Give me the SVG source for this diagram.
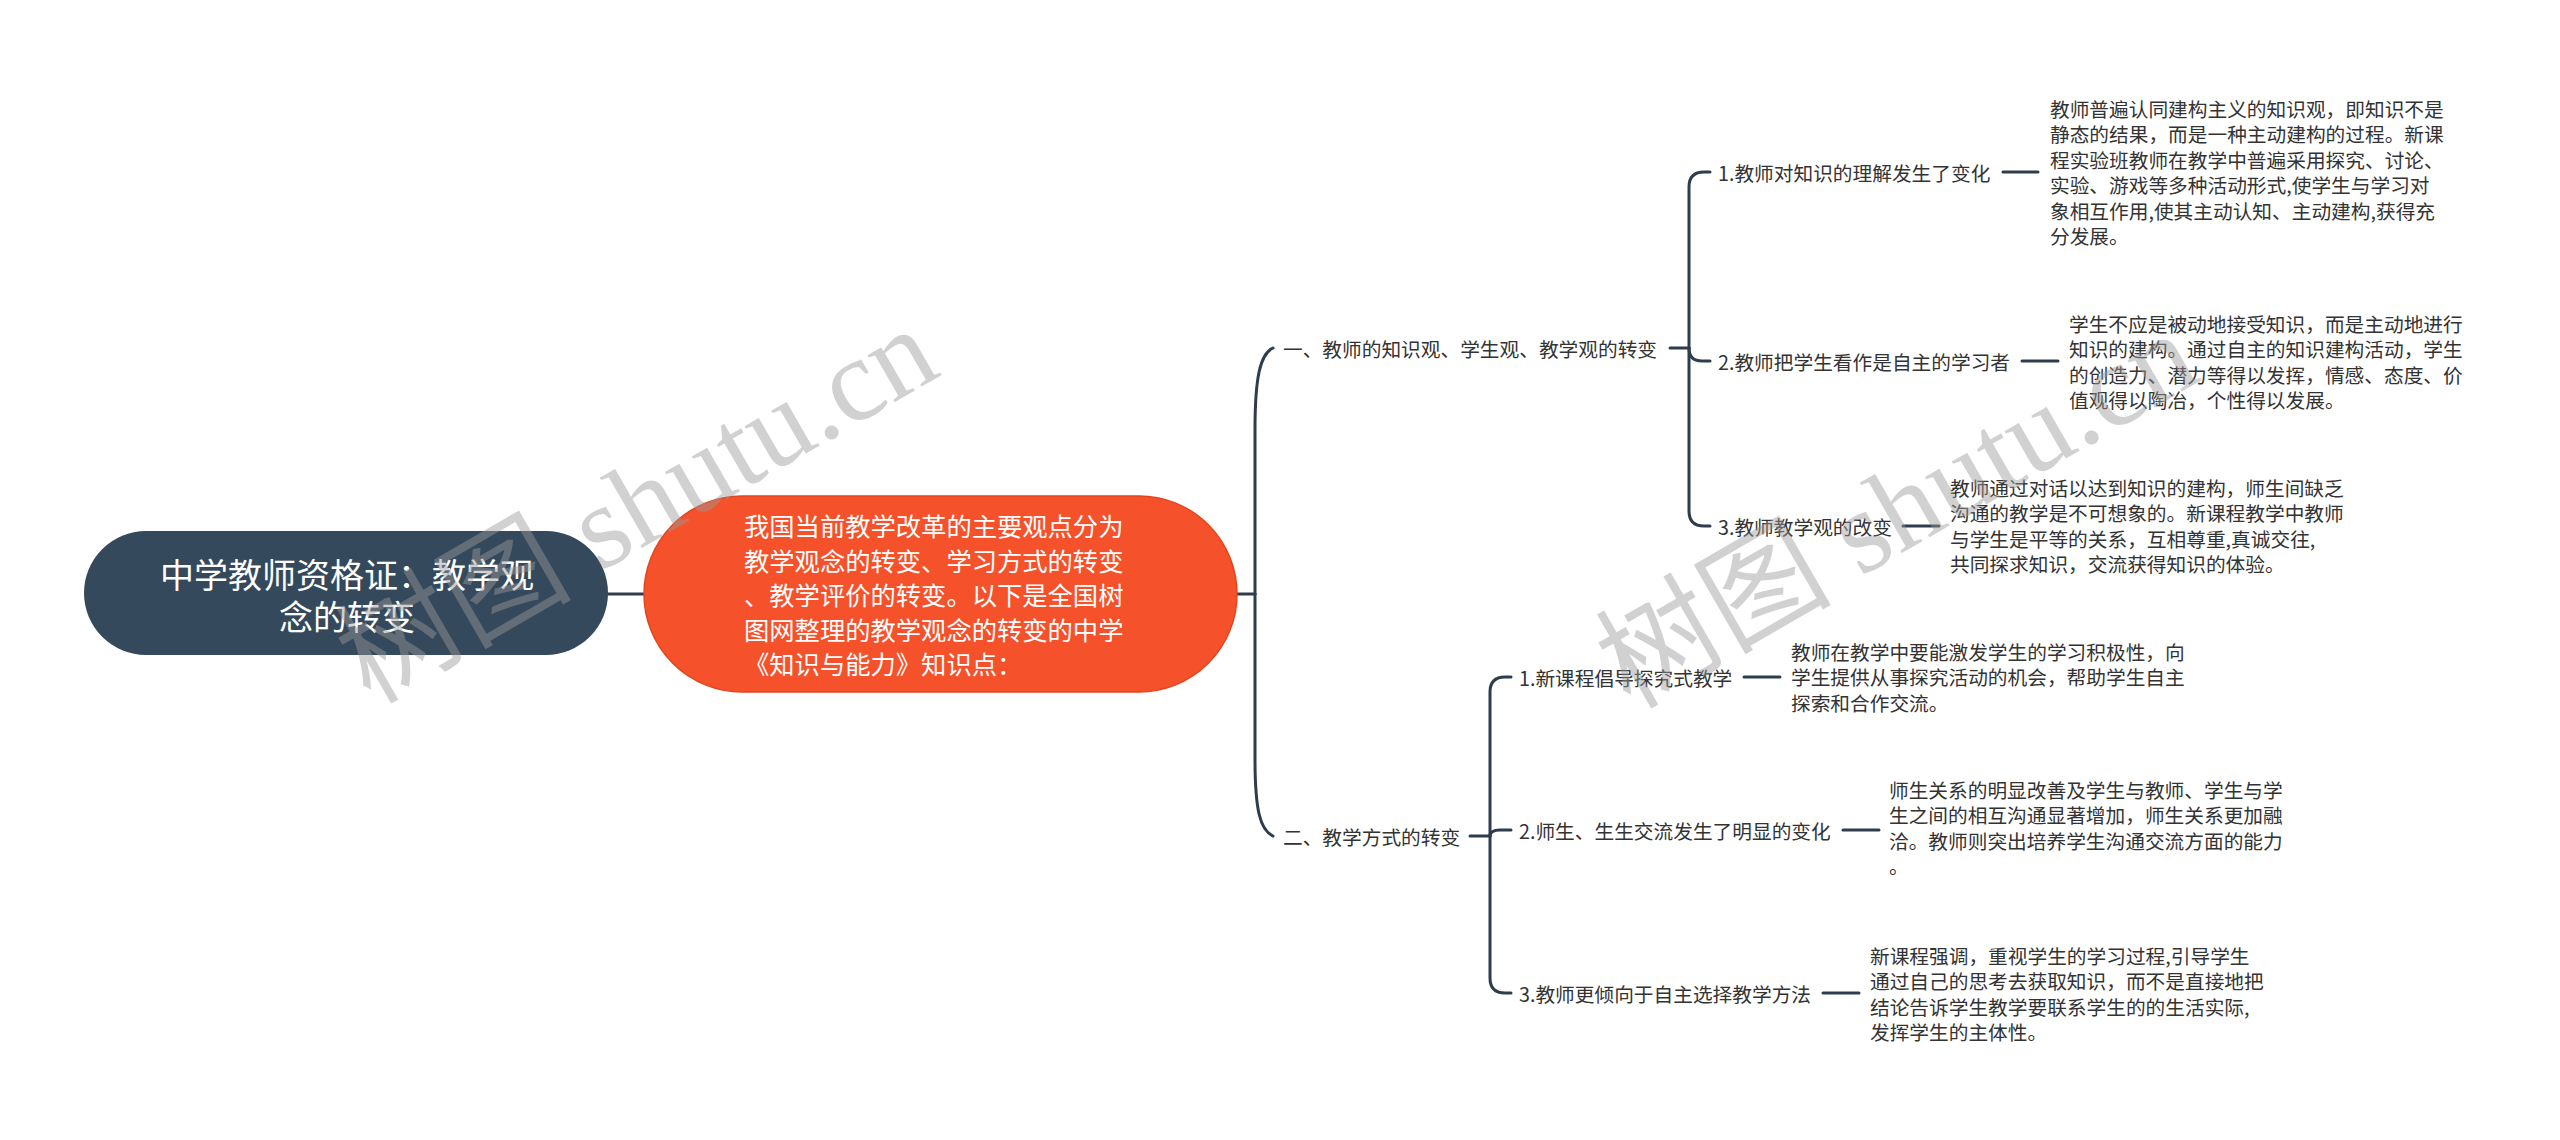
<svg xmlns="http://www.w3.org/2000/svg" width="2560" height="1140" viewBox="0 0 2560 1140">
<style>
text{font-family:"Noto Sans CJK SC","Noto Sans",sans-serif;}
.root{fill:#fff;font-size:34px;text-anchor:middle;dominant-baseline:central;}
.main{fill:#fff;font-size:25.3px;dominant-baseline:central;}
.t{fill:#333;font-size:19.7px;dominant-baseline:central;}
.c{fill:none;stroke:#2e3d4d;stroke-width:3;stroke-linecap:round;}
.wm{font-family:"Liberation Serif","Noto Sans CJK SC",serif;font-size:118px;fill:#9a9a9a;opacity:0.45;}
</style>
<rect width="2560" height="1140" fill="#fff"/>
<g id="connectors">
<path class="c" d="M608,594 H644"/>
<path class="c" d="M1237,594 H1255"/>
<path class="c" d="M1255,594 V430 C1255,378 1260,354 1273,348"/>
<path class="c" d="M1255,594 V758 C1255,810 1260,830 1273,836"/>
<path class="c" d="M1670,348 H1689"/>
<path class="c" d="M1689,348 V187 Q1689,172 1704,172 H1710"/>
<path class="c" d="M1689,348 Q1689,361 1702,361 H1710"/>
<path class="c" d="M1689,348 V511 Q1689,526 1704,526 H1710"/>
<path class="c" d="M1470,836 H1490"/>
<path class="c" d="M1490,836 V692 Q1490,677 1505,677 H1511"/>
<path class="c" d="M1490,836 Q1490,830 1500,830 H1511"/>
<path class="c" d="M1490,836 V978 Q1490,993 1505,993 H1511"/>
<path class="c" d="M2003,172 H2038"/>
<path class="c" d="M2022,361 H2058"/>
<path class="c" d="M1903,526 H1939"/>
<path class="c" d="M1744,677 H1780"/>
<path class="c" d="M1843,830 H1879"/>
<path class="c" d="M1823,993 H1859"/>
</g>
<g id="root">
<rect x="84" y="531" width="524" height="124" rx="62" fill="#34495c"/>
<text class="root"><tspan x="347" y="573">中学教师资格证：教学观</tspan><tspan x="347" y="615">念的转变</tspan></text>
</g>
<g id="summary">
<rect x="644" y="496" width="593" height="196" rx="98" fill="#f5512b" stroke="#e2461f" stroke-width="1.5"/>
<text class="main"><tspan x="744" y="525">我国当前教学改革的主要观点分为</tspan><tspan x="744" y="559.5">教学观念的转变、学习方式的转变</tspan><tspan x="744" y="594">、教学评价的转变。以下是全国树</tspan><tspan x="744" y="628.5">图网整理的教学观念的转变的中学</tspan><tspan x="744" y="663">《知识与能力》知识点：</tspan></text>
</g>
<g id="branch1"><text class="t" x="1283" y="348">一、教师的知识观、学生观、教学观的转变</text></g>
<g id="branch2"><text class="t" x="1283" y="836">二、教学方式的转变</text></g>
<g id="item1-1"><text class="t" x="1718" y="172">1.教师对知识的理解发生了变化</text></g>
<g id="item1-2"><text class="t" x="1718" y="361">2.教师把学生看作是自主的学习者</text></g>
<g id="item1-3"><text class="t" x="1718" y="526">3.教师教学观的改变</text></g>
<g id="item2-1"><text class="t" x="1519" y="677">1.新课程倡导探究式教学</text></g>
<g id="item2-2"><text class="t" x="1519" y="830">2.师生、生生交流发生了明显的变化</text></g>
<g id="item2-3"><text class="t" x="1519" y="993">3.教师更倾向于自主选择教学方法</text></g>
<g id="leaf1-1"><text class="t"><tspan x="2050" y="108">教师普遍认同建构主义的知识观，即知识不是</tspan><tspan x="2050" y="133.4">静态的结果，而是一种主动建构的过程。新课</tspan><tspan x="2050" y="158.8">程实验班教师在教学中普遍采用探究、讨论、</tspan><tspan x="2050" y="184.2">实验、游戏等多种活动形式,使学生与学习对</tspan><tspan x="2050" y="209.6">象相互作用,使其主动认知、主动建构,获得充</tspan><tspan x="2050" y="235">分发展。</tspan></text></g>
<g id="leaf1-2"><text class="t"><tspan x="2069" y="323">学生不应是被动地接受知识，而是主动地进行</tspan><tspan x="2069" y="348.4">知识的建构。通过自主的知识建构活动，学生</tspan><tspan x="2069" y="373.8">的创造力、潜力等得以发挥，情感、态度、价</tspan><tspan x="2069" y="399.2">值观得以陶冶，个性得以发展。</tspan></text></g>
<g id="leaf1-3"><text class="t"><tspan x="1950" y="487">教师通过对话以达到知识的建构，师生间缺乏</tspan><tspan x="1950" y="512.4">沟通的教学是不可想象的。新课程教学中教师</tspan><tspan x="1950" y="537.8">与学生是平等的关系，互相尊重,真诚交往,</tspan><tspan x="1950" y="563.2">共同探求知识，交流获得知识的体验。</tspan></text></g>
<g id="leaf2-1"><text class="t"><tspan x="1791" y="651">教师在教学中要能激发学生的学习积极性，向</tspan><tspan x="1791" y="676.4">学生提供从事探究活动的机会，帮助学生自主</tspan><tspan x="1791" y="701.8">探索和合作交流。</tspan></text></g>
<g id="leaf2-2"><text class="t"><tspan x="1889" y="789">师生关系的明显改善及学生与教师、学生与学</tspan><tspan x="1889" y="814.4">生之间的相互沟通显著增加，师生关系更加融</tspan><tspan x="1889" y="839.8">洽。教师则突出培养学生沟通交流方面的能力</tspan><tspan x="1889" y="865.2">。</tspan></text></g>
<g id="leaf2-3"><text class="t"><tspan x="1870" y="955">新课程强调，重视学生的学习过程,引导学生</tspan><tspan x="1870" y="980.4">通过自己的思考去获取知识，而不是直接地把</tspan><tspan x="1870" y="1005.8">结论告诉学生教学要联系学生的的生活实际,</tspan><tspan x="1870" y="1031.2">发挥学生的主体性。</tspan></text></g>
<g id="watermarks">
<text class="wm" x="370" y="705" transform="rotate(-30 370 705)">树图 shutu.cn</text>
<text class="wm" x="1630" y="710" transform="rotate(-30 1630 710)">树图 shutu.cn</text>
</g>
</svg>
